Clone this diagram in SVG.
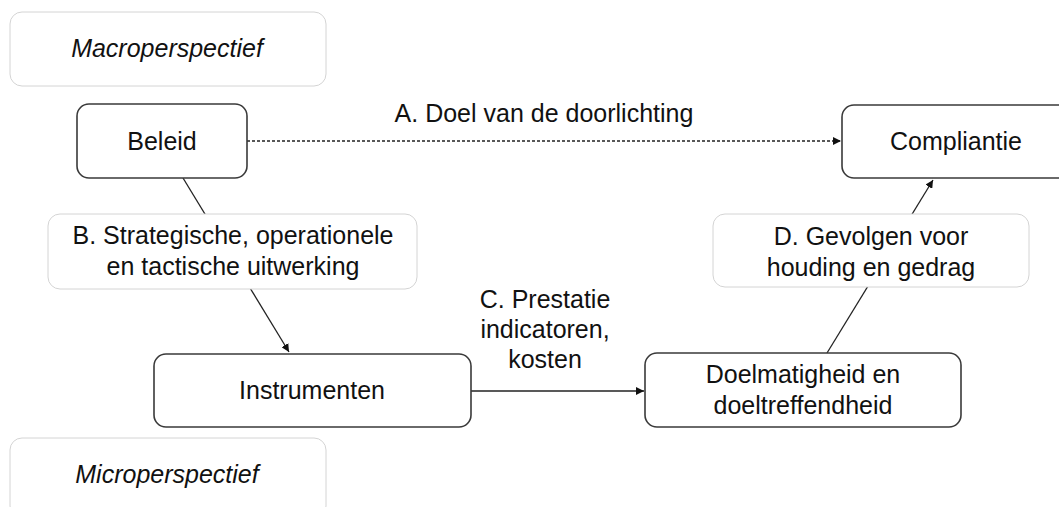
<svg xmlns="http://www.w3.org/2000/svg" width="1059" height="507" viewBox="0 0 1059 507">
<style>
text{font-family:"Liberation Sans",Arial,sans-serif;font-size:25px;fill:#111;text-anchor:middle}
.it{font-style:italic}
.node{fill:#fff;stroke:#3a3a3a;stroke-width:1.6}
.lbl{fill:#fff;stroke:#d4d4d4;stroke-width:1}
.conn{stroke:#222;stroke-width:1.3;fill:none}
.dot{stroke-dasharray:3 2}
</style>
<defs>
<marker id="ah" viewBox="0 0 10 10" refX="10" refY="5" markerWidth="8" markerHeight="8" markerUnits="userSpaceOnUse" orient="auto">
<path d="M0,0 L10,5 L0,10 z" fill="#111"/>
</marker>
</defs>
<rect width="1059" height="507" fill="#fff"/>
<g id="macro"><rect class="lbl" x="10" y="12" width="316" height="74" rx="12"/><text class="it" x="167" y="57">Macroperspectief</text></g>
<g id="micro"><rect class="lbl" x="10" y="438" width="316" height="80" rx="12"/><text class="it" x="167" y="483">Microperspectief</text></g>
<g id="connectors">
<line class="conn dot" x1="247" y1="141" x2="841" y2="141" marker-end="url(#ah)"/>
<line class="conn" x1="183" y1="178" x2="289" y2="352" marker-end="url(#ah)"/>
<line class="conn" x1="471" y1="391" x2="644" y2="391" marker-end="url(#ah)"/>
<line class="conn" x1="827" y1="353" x2="933" y2="180" marker-end="url(#ah)"/>
</g>
<g id="beleid"><rect class="node" x="77" y="104" width="170" height="74" rx="12"/><text x="162" y="150">Beleid</text></g>
<g id="compliantie"><rect class="node" x="842" y="105" width="230" height="73" rx="12"/><text x="956" y="150">Compliantie</text></g>
<g id="labelA"><text x="544" y="122">A. Doel van de doorlichting</text></g>
<g id="labelB"><rect class="lbl" x="48" y="214" width="369" height="75" rx="12"/><text x="233" y="244">B. Strategische, operationele</text><text x="233" y="275">en tactische uitwerking</text></g>
<g id="instrumenten"><rect class="node" x="154" y="354" width="317" height="73" rx="12"/><text x="312" y="399">Instrumenten</text></g>
<g id="labelC"><text x="545" y="308">C. Prestatie</text><text x="545" y="338">indicatoren,</text><text x="545" y="368">kosten</text></g>
<g id="doelmatigheid"><rect class="node" x="645" y="353" width="316" height="74" rx="12"/><text x="803" y="383">Doelmatigheid en</text><text x="803" y="414">doeltreffendheid</text></g>
<g id="labelD"><rect class="lbl" x="713" y="214" width="316" height="73" rx="12"/><text x="871" y="245">D. Gevolgen voor</text><text x="871" y="276">houding en gedrag</text></g>
</svg>
